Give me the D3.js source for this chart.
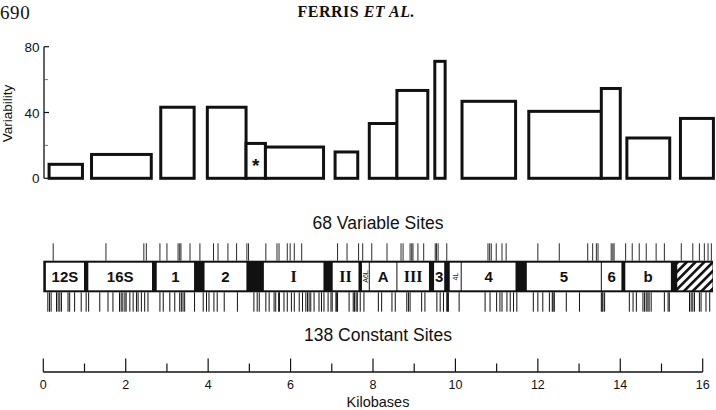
<!DOCTYPE html>
<html>
<head>
<meta charset="utf-8">
<script src="https://cdn.jsdelivr.net/npm/d3@7"></script>
<style>
  body { margin: 0; background: #fff; }
  svg { display: block; }
  text { font-family: 'Liberation Sans', 'DejaVu Sans', sans-serif; fill: #111; }
</style>
</head>
<body>
<svg width="716" height="410"></svg>
<script>
// variability histogram (kilobase start, end and variability per region)
const barStart = [0.14, 1.17, 2.85, 3.98, 4.92, 5.39, 7.08, 7.91, 8.58, 9.50, 10.16, 11.78, 13.54, 14.16, 15.46];
const barEnd   = [0.95, 2.62, 3.66, 4.92, 5.39, 6.80, 7.63, 8.58, 9.33, 9.75, 11.46, 13.54, 14.00, 15.20, 16.26];
const barValue = [8.5, 14.5, 43.2, 43.2, 21.2, 19.0, 16.0, 33.3, 53.4, 71.1, 46.8, 40.7, 54.6, 24.5, 36.4];
const starredBar = 4;

// gene map
const geneNames = ['12S', '16S', '1', '2', 'I', 'II', 'A6L', 'A', 'III', '3', '4L', '4', '5', '6', 'b', ''];
const geneStart = [0.05, 1.08, 2.74, 3.90, 5.34, 7.01, 7.72, 7.91, 8.58, 9.47, 9.85, 10.14, 11.72, 13.54, 14.11, 15.37];
const geneEnd   = [1.00, 2.65, 3.67, 4.94, 6.81, 7.66, 7.91, 8.58, 9.37, 9.74, 10.14, 11.47, 13.54, 14.04, 15.24, 16.25];
const mapLength = 16.25;

// restriction sites (kb)
const variableSites = [0.24, 1.52, 2.44, 2.50, 2.83, 3.00, 3.27, 3.31, 3.34, 3.56, 3.80, 4.13, 4.24, 4.48, 4.69, 4.94, 4.98,
  5.40, 5.67, 5.72, 5.92, 5.99, 6.09, 6.27, 7.14, 7.37, 7.65, 7.75, 7.97, 8.34, 8.68, 8.73, 8.90, 8.94, 8.97, 9.09, 9.23,
  9.51, 9.54, 9.58, 9.79, 10.79, 10.83, 10.87, 10.99, 11.13, 11.23, 12.00, 12.52, 13.21, 13.33, 13.42, 13.46, 13.78, 13.82,
  13.85, 14.13, 14.29, 14.46, 14.63, 14.87, 15.07, 15.48, 15.76, 15.92, 16.04, 16.13, 16.21];
const constantSites = [0.11, 0.15, 0.19, 0.32, 0.36, 0.40, 0.44, 0.60, 0.64, 0.76, 0.92, 1.04, 1.10, 1.37, 1.57, 1.69, 1.85,
  1.89, 1.93, 1.98, 2.01, 2.10, 2.18, 2.26, 2.30, 2.38, 2.46, 2.54, 2.83, 2.91, 3.07, 3.19, 3.31, 3.35, 3.39, 3.43, 3.67,
  3.88, 3.96, 4.02, 4.14, 4.22, 4.39, 4.71, 5.11, 5.19, 5.24, 5.40, 5.48, 5.60, 5.64, 5.71, 5.73, 5.84, 5.92, 6.02, 6.09,
  6.21, 6.29, 6.37, 6.41, 6.45, 6.49, 6.57, 6.69, 6.75, 6.81, 6.91, 6.98, 7.01, 7.10, 7.12, 7.14, 7.42, 7.52, 7.55, 7.59,
  7.62, 7.69, 7.78, 8.13, 8.21, 8.46, 8.54, 8.82, 8.86, 8.90, 9.18, 9.26, 9.55, 9.63, 9.71, 9.79, 9.81, 9.83, 10.09, 10.72,
  10.84, 11.00, 11.08, 11.13, 11.25, 11.33, 11.41, 11.49, 11.89, 12.00, 12.12, 12.28, 12.35, 12.37, 12.40, 12.69, 13.01,
  13.54, 13.56, 13.58, 13.62, 14.22, 14.31, 14.39, 14.55, 14.59, 14.63, 14.67, 14.70, 14.75, 15.07, 15.16, 15.19, 15.68,
  15.72, 15.76, 15.80, 15.92, 15.96, 16.08, 16.17];

// axis ticks
const yTicksMajor = [0, 40, 80];
const yTicksMinor = [20, 60];
const kbTicks = d3.range(0, 17);
const kbLabels = [0, 2, 4, 6, 8, 10, 12, 14, 16];

const svg = d3.select('svg');

const x = d3.scaleLinear().domain([0, 16]).range([43.3, 702.7]);
const y = d3.scaleLinear().domain([0, 80]).range([178.3, 46.7]);

// page header
svg.append('text')
  .attr('x', 0).attr('y', 19)
  .style('font-family', "'Liberation Serif', serif")
  .style('font-size', '19px')
  .style('letter-spacing', '0.6px')
  .text('690');

const header = svg.append('text')
  .attr('x', 297.5).attr('y', 17)
  .style('font-family', "'Liberation Serif', serif")
  .style('font-size', '16px')
  .style('letter-spacing', '0.5px')
  .style('font-weight', 'bold');
header.append('tspan').text('FERRIS ');
header.append('tspan').style('font-style', 'italic').text('ET AL.');

// variability axis
const yAxis = svg.append('g');
yAxis.append('line')
  .attr('x1', 44).attr('x2', 44)
  .attr('y1', y(80)).attr('y2', y(0))
  .attr('stroke', '#111').attr('stroke-width', 1.3);
yAxis.selectAll('.maj').data(yTicksMajor)
  .enter().append('line')
    .attr('x1', 44).attr('x2', 49)
    .attr('y1', d => y(d)).attr('y2', d => y(d))
    .attr('stroke', '#111').attr('stroke-width', 1.2);
yAxis.selectAll('.min').data(yTicksMinor)
  .enter().append('line')
    .attr('x1', 44).attr('x2', 48)
    .attr('y1', d => y(d)).attr('y2', d => y(d))
    .attr('stroke', '#555').attr('stroke-width', 0.8);
yAxis.selectAll('text').data(yTicksMajor)
  .enter().append('text')
    .attr('x', 39.5).attr('y', d => y(d) + 5)
    .attr('text-anchor', 'end')
    .style('font-size', '13.5px')
    .text(d => d);

svg.append('text')
  .attr('transform', `translate(12, 113.5) rotate(-90)`)
  .attr('text-anchor', 'middle')
  .style('font-size', '13.5px')
  .text('Variability');

// bars
svg.append('g').selectAll('rect').data(barValue)
  .enter().append('rect')
    .attr('x', (d, i) => x(barStart[i]))
    .attr('width', (d, i) => x(barEnd[i]) - x(barStart[i]))
    .attr('y', d => y(d))
    .attr('height', d => y(0) - y(d))
    .attr('fill', '#fff')
    .attr('stroke', '#111')
    .attr('stroke-width', 3);

svg.append('text')
  .attr('x', (x(barStart[starredBar]) + x(barEnd[starredBar])) / 2)
  .attr('y', 172)
  .attr('text-anchor', 'middle')
  .style('font-size', '19px')
  .style('font-weight', 'bold')
  .text('*');

// site labels
svg.append('text')
  .attr('x', 378).attr('y', 228.5)
  .attr('text-anchor', 'middle')
  .style('font-size', '17.5px')
  .text('68 Variable Sites');

svg.append('text')
  .attr('x', 378).attr('y', 341)
  .attr('text-anchor', 'middle')
  .style('font-size', '17.5px')
  .text('138 Constant Sites');

// hatch pattern for the control region
const pattern = svg.append('defs').append('pattern')
  .attr('id', 'hatch')
  .attr('patternUnits', 'userSpaceOnUse')
  .attr('width', 6.2).attr('height', 6.2)
  .attr('patternTransform', 'rotate(45)');
pattern.append('rect').attr('width', 6.2).attr('height', 6.2).attr('fill', '#fff');
pattern.append('rect').attr('width', 2.6).attr('height', 6.2).attr('fill', '#111');

// gene map
const mapTop = 260.7, mapBottom = 292.3;
const geneMap = svg.append('g');

geneMap.selectAll('.up').data(variableSites)
  .enter().append('line')
    .attr('x1', d => x(d)).attr('x2', d => x(d))
    .attr('y1', 243.3).attr('y2', mapTop)
    .attr('stroke', '#111').attr('stroke-width', 0.9);

geneMap.selectAll('.down').data(constantSites)
  .enter().append('line')
    .attr('x1', d => x(d)).attr('x2', d => x(d))
    .attr('y1', mapBottom).attr('y2', 311.7)
    .attr('stroke', '#111').attr('stroke-width', 1);

geneMap.append('rect')
  .attr('x', x(0)).attr('y', mapTop)
  .attr('width', x(mapLength) - x(0))
  .attr('height', mapBottom - mapTop)
  .attr('fill', '#111');

geneMap.selectAll('.gene').data(geneNames)
  .enter().append('rect')
    .attr('x', (d, i) => x(geneStart[i]) + 0.5)
    .attr('width', (d, i) => x(geneEnd[i]) - x(geneStart[i]) - 1)
    .attr('y', mapTop + 2)
    .attr('height', mapBottom - mapTop - 4)
    .attr('fill', d => d === '' ? 'url(#hatch)' : '#fff');

const roman = ['I', 'II', 'III'];
const small = ['A6L', '4L'];

geneMap.selectAll('.label').data(geneNames)
  .enter().append('text')
    .attr('text-anchor', 'middle')
    .attr('transform', (d, i) => {
      const cx = (x(geneStart[i]) + x(geneEnd[i])) / 2;
      return small.includes(d) ? `translate(${cx + 2.5}, 276.5) rotate(-90)` : `translate(${cx}, 282)`;
    })
    .style('font-family', d => roman.includes(d) ? "'Liberation Serif', serif" : null)
    .style('font-size', d => small.includes(d) ? '7px' : (roman.includes(d) ? '16px' : '15px'))
    .style('font-weight', d => small.includes(d) ? 'normal' : 'bold')
    .text(d => d);

// kilobase axis
const kbAxis = svg.append('g');
kbAxis.append('line')
  .attr('x1', x(0)).attr('x2', x(16))
  .attr('y1', 372).attr('y2', 372)
  .attr('stroke', '#111').attr('stroke-width', 1.4);
kbAxis.selectAll('.tick').data(kbTicks)
  .enter().append('line')
    .attr('x1', d => x(d)).attr('x2', d => x(d))
    .attr('y1', d => d % 2 === 0 ? 358.5 : 363.5).attr('y2', 372)
    .attr('stroke', '#111').attr('stroke-width', 1.2);
kbAxis.selectAll('text').data(kbLabels)
  .enter().append('text')
    .attr('x', d => x(d)).attr('y', 389)
    .attr('text-anchor', 'middle')
    .style('font-size', '12.5px')
    .text(d => d);

svg.append('text')
  .attr('x', 378).attr('y', 406.5)
  .attr('text-anchor', 'middle')
  .style('font-size', '14.5px')
  .text('Kilobases');
</script>
</body>
</html>
